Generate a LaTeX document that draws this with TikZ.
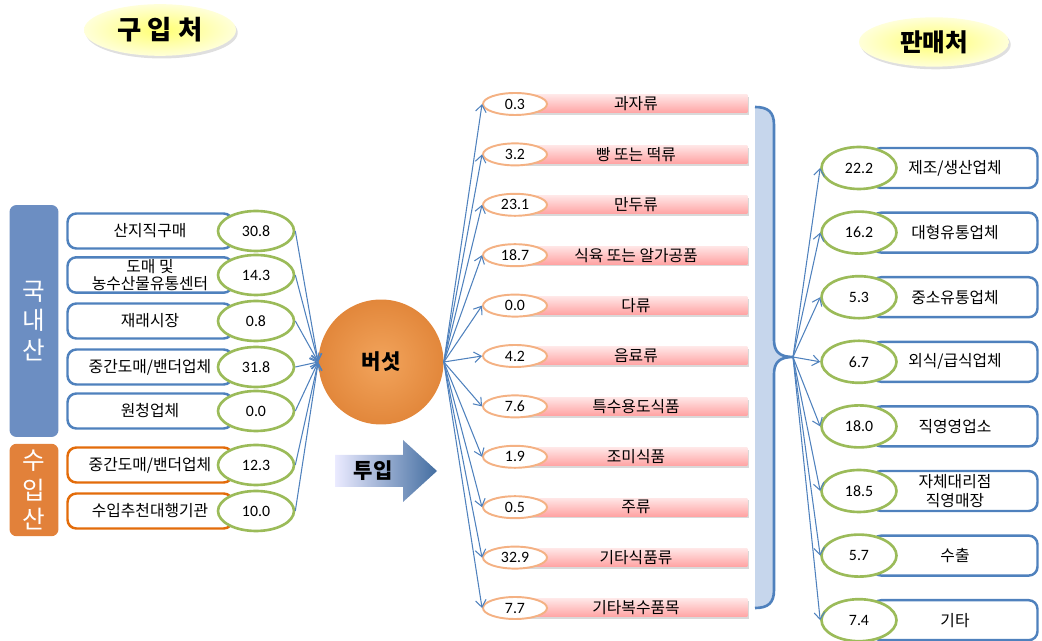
\documentclass[tikz,border=0pt]{standalone}
\usepackage{fontspec}
\setmainfont{Carlito}
\newfontfamily\kr{Noto Sans CJK KR}
\usetikzlibrary{shapes.geometric,shadows,arrows.meta}

\definecolor{boxblue}{HTML}{4F81BD}
\definecolor{boxorange}{HTML}{E36C0A}
\definecolor{panelblue}{HTML}{6C8EC2}
\definecolor{panelorange}{HTML}{E2813A}
\definecolor{valgreen}{HTML}{9BBB59}
\definecolor{valorange}{HTML}{F4B183}
\definecolor{flowblue}{HTML}{4F81BD}
\definecolor{brfill}{HTML}{C6D6EC}
\definecolor{mushin}{HTML}{F2A45C}
\definecolor{mushout}{HTML}{E2873B}

\tikzset{
  title/.style={ellipse, inner color=yellow!55!white, outer color=yellow!15!white,
    drop shadow={opacity=0.25, shadow xshift=1pt, shadow yshift=-1.5pt},
    minimum width=3.04cm, minimum height=0.96cm, font=\kr\bfseries\fontsize{15}{17}\selectfont},
  panel/.style={rounded corners=4pt, minimum width=0.98cm, text=white, align=center,
    font=\kr\fontsize{14}{17}\selectfont},
  srcbox/.style={rounded corners=5pt, line width=1.4pt, fill=white, minimum width=3.3cm,
    minimum height=0.7cm, inner sep=1pt, align=center, font=\kr\fontsize{9}{10}\selectfont},
  dstbox/.style={srcbox, draw=boxblue, minimum height=0.8cm, font=\kr\fontsize{9}{10.5}\selectfont},
  valgreen/.style={ellipse, draw=valgreen, line width=1.5pt, fill=white, inner sep=0pt,
    minimum width=1.52cm, minimum height=0.8cm, font=\fontsize{9}{10}\selectfont},
  bar/.style={top color=red!10!white, bottom color=red!36!white, minimum width=4.46cm,
    minimum height=0.36cm, inner sep=0pt, font=\kr\fontsize{9}{10}\selectfont,
    drop shadow={opacity=0.3, shadow xshift=1pt, shadow yshift=-1.2pt}},
  valorange/.style={ellipse, draw=valorange, line width=1.1pt, fill=white, inner sep=0pt,
    minimum width=1.28cm, minimum height=0.44cm, font=\fontsize{9}{10}\selectfont},
  flow/.style={draw=flowblue, line width=0.6pt, -{Straight Barb[length=4pt,width=6pt]}},
}

\begin{document}
\begin{tikzpicture}[x=0.02cm,y=-0.02cm]
\useasboundingbox (0,0) rectangle (1042,641);

% titles
\node[title] (buy) at (160,30) {구 입 처};
\node[title, minimum width=3cm, minimum height=0.88cm,
  font=\kr\bfseries\fontsize{14}{16}\selectfont] (sell) at (934,42) {판매처};

% mushroom and input arrow
\node[circle, minimum size=2.5cm, inner color=mushin, outer color=mushout,
  font=\kr\bfseries\fontsize{12}{14}\selectfont] (mush) at (381,362) {버섯};
\shade[left color=blue!8!white, right color=boxblue!85!black]
  (335,455) -- (403,455) -- (403,440) -- (437,471) -- (403,502) -- (403,487) -- (335,487) -- cycle;
\node[font=\kr\bfseries\fontsize{12}{14}\selectfont] (inp) at (373,471) {투입};

% origin panels
\node[panel, fill=panelblue, minimum height=4.64cm] (dom) at (34,321) {국\\내\\산};
\node[panel, fill=panelorange, minimum height=1.68cm] (imp) at (34,490) {수\\입\\산};

% purchase sources
\foreach \i/\y/\t/\v/\c in {1/231/산지직구매/30.8/boxblue, 2/275/{도매 및\\농수산물유통센터}/14.3/boxblue,
    3/321/재래시장/0.8/boxblue, 4/367/{중간도매/밴더업체}/31.8/boxblue, 5/411/원청업체/0.0/boxblue,
    6/465/{중간도매/밴더업체}/12.3/boxorange, 7/511/수입추천대행기관/10.0/boxorange}
{
  \node[srcbox, draw=\c] (s\i) at (150,\y) {\t};
  \node[valgreen] (sv\i) at (256,\y) {\v};
  \draw[flow] (sv\i.east) -- (mush.west);
}

% products
\foreach \v/\t [count=\i] in {0.3/과자류, 3.2/빵 또는 떡류, 23.1/만두류, 18.7/식육 또는 알가공품, 0.0/다류,
    4.2/음료류, 7.6/특수용도식품, 1.9/조미식품, 0.5/주류, 32.9/기타식품류, 7.7/기타복수품목}
{
  \node[bar] (pb\i) at (636,{104+50.4*(\i-1)}) {\t};
  \node[valorange] (pv\i) at (515,{104+50.4*(\i-1)}) {\v};
  \draw[flow] (mush.east) -- (pv\i.west);
}

% bracket
\fill[brfill] (755,107) .. controls (768,107) and (774,112) .. (774,125) -- (774,340)
  .. controls (774,352) and (780,357) .. (793,357) .. controls (780,357) and (774,362) .. (774,374)
  -- (774,590) .. controls (774,603) and (768,608) .. (755,608) -- cycle;
\draw[boxblue, line width=1.5pt] (755,107) .. controls (768,107) and (774,112) .. (774,125) -- (774,340)
  .. controls (774,352) and (780,357) .. (793,357) .. controls (780,357) and (774,362) .. (774,374)
  -- (774,590) .. controls (774,603) and (768,608) .. (755,608);
\coordinate (tip) at (793,357);

% sales destinations
\foreach \v/\t [count=\i] in {22.2/{제조/생산업체}, 16.2/대형유통업체, 5.3/중소유통업체, 6.7/{외식/급식업체},
    18.0/직영영업소, 18.5/{자체대리점\\직영매장}, 5.7/수출, 7.4/기타}
{
  \node[dstbox] (d\i) at (955,{168+64.6*(\i-1)}) {\t};
  \node[valgreen, minimum width=1.5cm, minimum height=0.84cm] (dv\i) at (859,{168+64.6*(\i-1)}) {\v};
  \draw[flow] (tip) -- (dv\i.west);
}
\end{tikzpicture}
\end{document}
